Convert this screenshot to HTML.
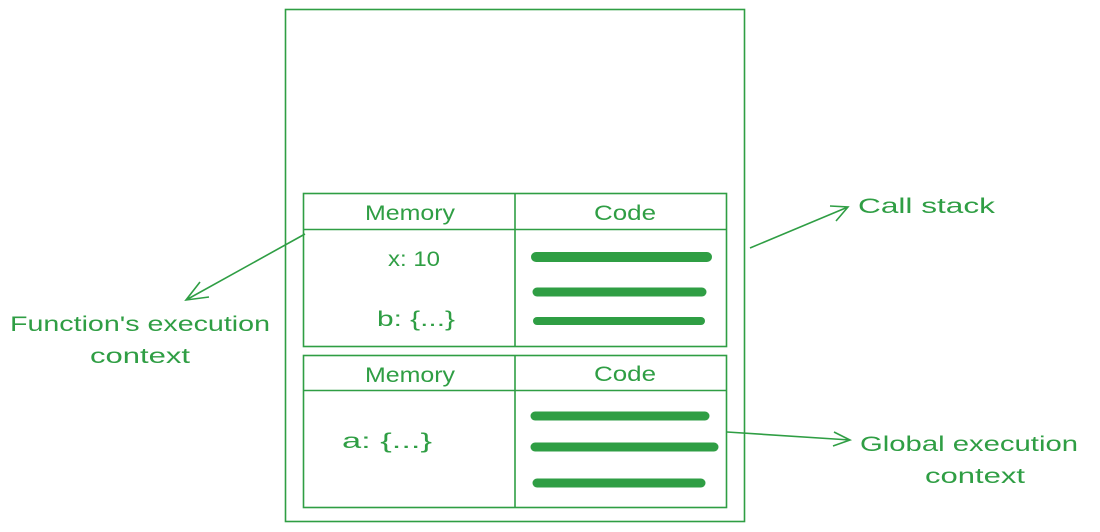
<!DOCTYPE html>
<html><head><meta charset="utf-8"><style>
html,body{margin:0;padding:0;background:#fff;}
svg{display:block}
text{font-family:"Liberation Sans",sans-serif;fill:#2f9e44;font-size:21px;}
</style></head><body>
<svg width="1100" height="532" viewBox="0 0 1100 532" xmlns="http://www.w3.org/2000/svg">
<g fill="none" stroke="#2f9e44" stroke-width="1.6">
<rect x="285.5" y="9.5" width="459" height="512"/>
<rect x="303.5" y="193.5" width="423" height="153"/>
<line x1="303" y1="229.5" x2="727" y2="229.5"/>
<line x1="515" y1="193" x2="515" y2="347"/>
<rect x="303.5" y="355.5" width="423" height="152"/>
<line x1="303" y1="390.5" x2="727" y2="390.5"/>
<line x1="515" y1="355" x2="515" y2="508"/>
<path d="M750 248 L848 207 M830 206 L848 207 L836 221"/>
<path d="M305 234 L186 300 M200 282 L186 300 L209 297"/>
<path d="M727 432 L850 440 M834 432 L850 440 L833 446"/>
</g>
<g stroke="#2f9e44" stroke-linecap="round" fill="none">
<line x1="536" y1="257" x2="707" y2="257" stroke-width="10"/>
<line x1="537" y1="292" x2="702" y2="292" stroke-width="9"/>
<line x1="537" y1="321" x2="701" y2="321" stroke-width="8"/>
<line x1="535" y1="416" x2="705" y2="416" stroke-width="9"/>
<line x1="535" y1="447" x2="714" y2="447" stroke-width="9"/>
<line x1="537" y1="483" x2="701" y2="483" stroke-width="9"/>
</g>
<text x="365" y="220" textLength="90" lengthAdjust="spacingAndGlyphs">Memory</text>
<text x="594" y="220" textLength="62" lengthAdjust="spacingAndGlyphs">Code</text>
<text x="365" y="382" textLength="90" lengthAdjust="spacingAndGlyphs">Memory</text>
<text x="594" y="381" textLength="62" lengthAdjust="spacingAndGlyphs">Code</text>
<text x="388" y="266" textLength="52" lengthAdjust="spacingAndGlyphs">x: 10</text>
<text x="377" y="326" textLength="78" lengthAdjust="spacingAndGlyphs">b: {...}</text>
<text x="342" y="448" textLength="90" lengthAdjust="spacingAndGlyphs">a: {...}</text>
<text x="858" y="213" textLength="137" lengthAdjust="spacingAndGlyphs">Call stack</text>
<text x="10" y="331" textLength="260" lengthAdjust="spacingAndGlyphs">Function's execution</text>
<text x="90" y="363" textLength="100" lengthAdjust="spacingAndGlyphs">context</text>
<text x="860" y="451" textLength="218" lengthAdjust="spacingAndGlyphs">Global execution</text>
<text x="925" y="483" textLength="100" lengthAdjust="spacingAndGlyphs">context</text>
</svg>
</body></html>
